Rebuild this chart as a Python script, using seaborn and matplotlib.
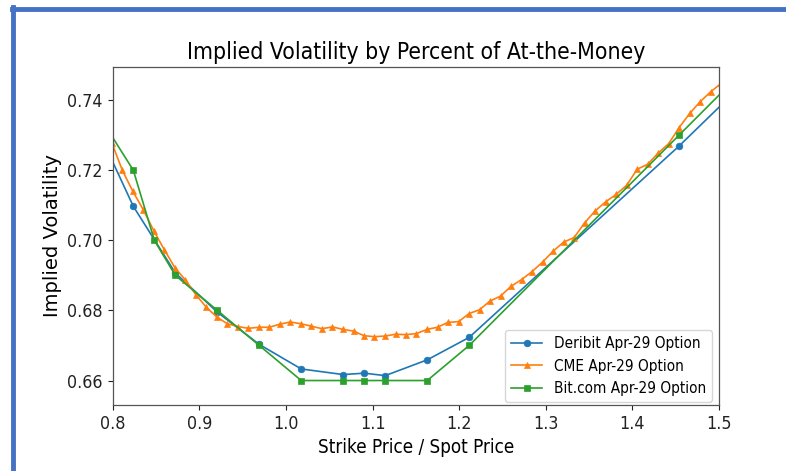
import matplotlib
matplotlib.use("Agg")
import matplotlib.pyplot as plt
from matplotlib.lines import Line2D
import seaborn as sns

# ---- data (strike / spot ratio, implied volatility) ----
deribit_x = [0.7754, 0.8238, 0.8723, 0.9208, 0.9692, 1.0177, 1.0662, 1.0904,
             1.1146, 1.1631, 1.2115, 1.4538, 1.5750]
deribit_iv = [0.7355, 0.7097, 0.6907, 0.6795, 0.6703, 0.6633, 0.6617, 0.6621,
              0.6614, 0.6659, 0.6723, 0.7269, 0.7560]

cme_x = [0.7990, 0.8111, 0.8232, 0.8354, 0.8475, 0.8596, 0.8718, 0.8839, 0.8960,
         0.9081, 0.9203, 0.9324, 0.9445, 0.9567, 0.9688, 0.9809, 0.9931, 1.0052,
         1.0173, 1.0294, 1.0416, 1.0537, 1.0658, 1.0780, 1.0901, 1.1022, 1.1144,
         1.1265, 1.1386, 1.1507, 1.1629, 1.1750, 1.1871, 1.1993, 1.2114, 1.2235,
         1.2357, 1.2478, 1.2599, 1.2720, 1.2842, 1.2963, 1.3084, 1.3206, 1.3327,
         1.3448, 1.3570, 1.3691, 1.3812, 1.3933, 1.4055, 1.4176, 1.4297, 1.4419,
         1.4540, 1.4661, 1.4783, 1.4904, 1.5025]
cme_iv = [0.7278, 0.7200, 0.7140, 0.7087, 0.7027, 0.6973, 0.6922, 0.6887, 0.6845,
          0.6809, 0.6781, 0.6762, 0.6754, 0.6749, 0.6752, 0.6752, 0.6761, 0.6767,
          0.6762, 0.6755, 0.6748, 0.6753, 0.6746, 0.6741, 0.6728, 0.6725, 0.6727,
          0.6732, 0.6731, 0.6734, 0.6746, 0.6752, 0.6766, 0.6768, 0.6791, 0.6802,
          0.6827, 0.6841, 0.6869, 0.6888, 0.6911, 0.6938, 0.6969, 0.6995, 0.7008,
          0.7050, 0.7084, 0.7110, 0.7131, 0.7157, 0.7203, 0.7217, 0.7249, 0.7276,
          0.7322, 0.7362, 0.7396, 0.7424, 0.7448]

bitcom_x = [0.7754, 0.8238, 0.8481, 0.8723, 0.9208, 0.9692, 1.0177, 1.0662,
            1.0904, 1.1146, 1.1631, 1.2115, 1.4538, 1.5750]
bitcom_iv = [0.7390, 0.7200, 0.7000, 0.6900, 0.6800, 0.6700, 0.6600, 0.6600,
             0.6600, 0.6600, 0.6600, 0.6700, 0.7300, 0.7600]

labels = ["Deribit Apr-29 Option", "CME Apr-29 Option", "Bit.com Apr-29 Option"]
x_ticks = [0.8, 0.9, 1.0, 1.1, 1.2, 1.3, 1.4, 1.5]
y_ticks = [0.66, 0.68, 0.70, 0.72, 0.74]

colors = ["#1f77b4", "#ff7f0e", "#2ca02c"]
markers = ["o", "^", "s"]

fig = plt.figure(figsize=(7.86, 4.71), dpi=100)
ax = fig.add_axes([0.1434, 0.140, 0.7714, 0.718])

series = [(deribit_x, deribit_iv), (cme_x, cme_iv), (bitcom_x, bitcom_iv)]
for (xs, ys), lab, c, m in zip(series, labels, colors, markers):
    sns.lineplot(x=xs, y=ys, ax=ax, color=c, marker=m, markersize=4.8,
                 markeredgecolor=c, markeredgewidth=0.5, linewidth=1.2,
                 label=lab, sort=False)

ax.set_xlim(0.8, 1.5)
ax.set_ylim(0.653, 0.7495)
ax.set_xticks(x_ticks)
ax.set_yticks(y_ticks)
ax.tick_params(colors="#222222")
for lbl in ax.get_xticklabels() + ax.get_yticklabels():
    lbl.set_fontsize(12.8)
    lbl.set_fontstretch("condensed")
for s in ax.spines.values():
    s.set_color("#555555")
    s.set_linewidth(0.9)

ax.set_title("Implied Volatility by Percent of At-the-Money", fontsize=16.5,
             fontstretch="condensed", pad=6)
ax.set_xlabel("Strike Price / Spot Price", fontsize=13.5, fontstretch="condensed")
ax.set_ylabel("Implied Volatility", fontsize=14)

leg = ax.legend(loc="lower right", bbox_to_anchor=(0.989, 0.008), borderaxespad=0,
                frameon=True, prop={"size": 11, "stretch": "condensed"})

# blue screenshot border (top and left)
fig.add_artist(Line2D([12 / 786, 1.0], [1 - 8.5 / 471, 1 - 8.5 / 471],
                      transform=fig.transFigure, color="#4472C4", linewidth=3.5))
fig.add_artist(Line2D([12.5 / 786, 12.5 / 786], [0.0, 1 - 7 / 471],
                      transform=fig.transFigure, color="#4472C4", linewidth=3.5))

fig.savefig("out.png", dpi=100)
